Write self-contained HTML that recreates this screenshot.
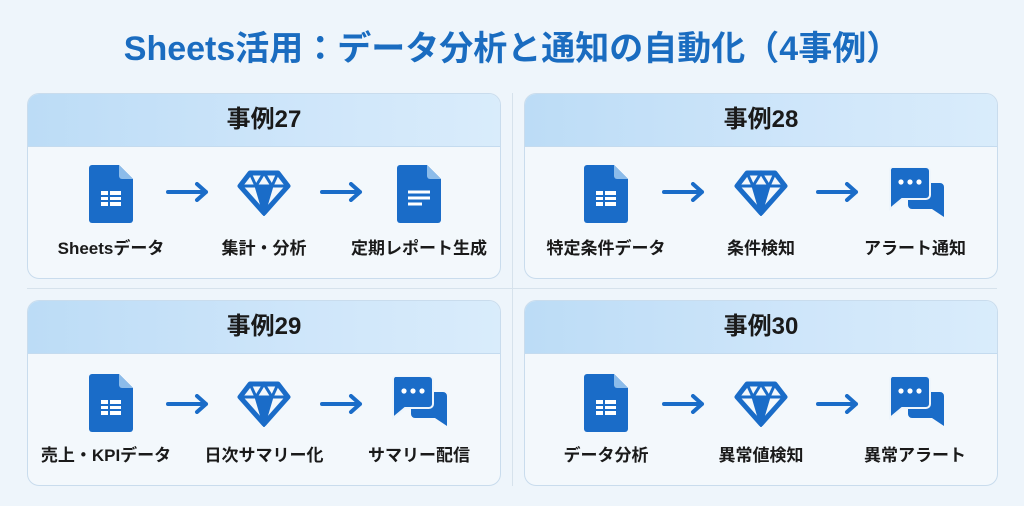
<!DOCTYPE html>
<html><head><meta charset="utf-8"><style>
body{margin:0;width:1024px;height:506px;background:#eef5fb;font-family:"Liberation Sans","Noto Sans CJK JP",sans-serif;position:relative;overflow:hidden}
.t{position:absolute;left:0;width:1024px;top:21px;text-align:center;font-size:34px;font-weight:bold;color:#1a6cc0}
.card{position:absolute;width:472px;height:184px;border:1px solid #c9dced;border-radius:12px;background:#f3f8fc;overflow:hidden}
.hd{height:52px;background:linear-gradient(90deg,#bcdcf6,#cfe6fa 60%,#d9ecfb);border-bottom:1px solid #c4dbef;text-align:center;line-height:52px;font-size:24px;font-weight:bold;color:#1a1a1a}
.lbl{position:absolute;top:140px;width:160px;margin-left:-80px;text-align:center;font-size:17px;font-weight:bold;color:#1a1a1a}
.ic{position:absolute}
.vl{position:absolute;left:512px;top:93px;width:1px;height:393px;background:#d6e2ec}
.hl{position:absolute;left:27px;top:288px;width:970px;height:1px;background:#d6e2ec}
</style></head><body>
<svg width="0" height="0" style="position:absolute">
<defs>
<symbol id="sh" viewBox="0 0 44 58"><path d="M3 0H30L44 14V55a3 3 0 0 1-3 3H3a3 3 0 0 1-3-3V3a3 3 0 0 1 3-3z" fill="#1a6cc8"/><path d="M30 0L44 14H33a3 3 0 0 1-3-3z" fill="#8cbcea"/><rect x="12" y="26" width="20" height="15" fill="#fff"/><path d="M12 31H32M12 36H32M20 26V41" stroke="#1a6cc8" stroke-width="2"/></symbol>
<symbol id="dc" viewBox="0 0 44 58"><path d="M3 0H30L44 14V55a3 3 0 0 1-3 3H3a3 3 0 0 1-3-3V3a3 3 0 0 1 3-3z" fill="#1a6cc8"/><path d="M30 0L44 14H33a3 3 0 0 1-3-3z" fill="#8cbcea"/><path d="M11 27H33M11 33H33M11 39H25" stroke="#fff" stroke-width="3"/></symbol>
<symbol id="dm" viewBox="0 0 54 46"><path d="M13 3H41L51 16L27 43L3 16Z" fill="none" stroke="#1a6cc8" stroke-width="5" stroke-linejoin="round"/><path d="M3 16H51M13 3L19 16L27 3L35 16L41 3M19 16L27 43L35 16" fill="none" stroke="#1a6cc8" stroke-width="3"/><path d="M19 16H35L27 40Z" fill="#1a6cc8"/></symbol>
<symbol id="ch" viewBox="0 0 56 52"><path d="M20 16H52a4 4 0 0 1 4 4V50L44 42H24a4 4 0 0 1-4-4z" fill="#1a6cc8"/><path d="M4 0H38a4 4 0 0 1 4 4V28a4 4 0 0 1-4 4H14L2 42V4a4 4 0 0 1 2-4z" fill="#1a6cc8" stroke="#eef5fb" stroke-width="2"/><circle cx="13" cy="15" r="2.6" fill="#fff"/><circle cx="22" cy="15" r="2.6" fill="#fff"/><circle cx="31" cy="15" r="2.6" fill="#fff"/></symbol>
<symbol id="ar" viewBox="0 0 44 20"><path d="M2 10H40M31 2L40 10L31 18" fill="none" stroke="#1a6cc8" stroke-width="4" stroke-linecap="round" stroke-linejoin="round"/></symbol>
</defs></svg>
<div class="t">Sheets活用：データ分析と通知の自動化（4事例）</div>
<div class="vl"></div><div class="hl"></div>

<div class="card" style="left:27px;top:93px">
<div class="hd">事例27</div>
<svg class="ic" style="left:61px;top:71px" width="44" height="58"><use href="#sh"/></svg>
<svg class="ic" style="left:138px;top:88px" width="44" height="20"><use href="#ar"/></svg>
<svg class="ic" style="left:209px;top:76px" width="54" height="46"><use href="#dm"/></svg>
<svg class="ic" style="left:292px;top:88px" width="44" height="20"><use href="#ar"/></svg>
<svg class="ic" style="left:369px;top:71px" width="44" height="58"><use href="#dc"/></svg>
<div class="lbl" style="left:83px">Sheetsデータ</div>
<div class="lbl" style="left:236px">集計・分析</div>
<div class="lbl" style="left:391px">定期レポート生成</div>
</div>

<div class="card" style="left:524px;top:93px">
<div class="hd">事例28</div>
<svg class="ic" style="left:59px;top:71px" width="44" height="58"><use href="#sh"/></svg>
<svg class="ic" style="left:137px;top:88px" width="44" height="20"><use href="#ar"/></svg>
<svg class="ic" style="left:209px;top:76px" width="54" height="46"><use href="#dm"/></svg>
<svg class="ic" style="left:291px;top:88px" width="44" height="20"><use href="#ar"/></svg>
<svg class="ic" style="left:363px;top:73px" width="56" height="52"><use href="#ch"/></svg>
<div class="lbl" style="left:81px">特定条件データ</div>
<div class="lbl" style="left:236px">条件検知</div>
<div class="lbl" style="left:390px">アラート通知</div>
</div>

<div class="card" style="left:27px;top:300px">
<div class="hd">事例29</div>
<svg class="ic" style="left:61px;top:73px" width="44" height="58"><use href="#sh"/></svg>
<svg class="ic" style="left:138px;top:93px" width="44" height="20"><use href="#ar"/></svg>
<svg class="ic" style="left:209px;top:80px" width="54" height="46"><use href="#dm"/></svg>
<svg class="ic" style="left:292px;top:93px" width="44" height="20"><use href="#ar"/></svg>
<svg class="ic" style="left:363px;top:75px" width="56" height="52"><use href="#ch"/></svg>
<div class="lbl" style="left:78px">売上・KPIデータ</div>
<div class="lbl" style="left:236px">日次サマリー化</div>
<div class="lbl" style="left:391px">サマリー配信</div>
</div>

<div class="card" style="left:524px;top:300px">
<div class="hd">事例30</div>
<svg class="ic" style="left:59px;top:73px" width="44" height="58"><use href="#sh"/></svg>
<svg class="ic" style="left:137px;top:93px" width="44" height="20"><use href="#ar"/></svg>
<svg class="ic" style="left:209px;top:80px" width="54" height="46"><use href="#dm"/></svg>
<svg class="ic" style="left:291px;top:93px" width="44" height="20"><use href="#ar"/></svg>
<svg class="ic" style="left:363px;top:75px" width="56" height="52"><use href="#ch"/></svg>
<div class="lbl" style="left:81px">データ分析</div>
<div class="lbl" style="left:236px">異常値検知</div>
<div class="lbl" style="left:390px">異常アラート</div>
</div>
</body></html>
